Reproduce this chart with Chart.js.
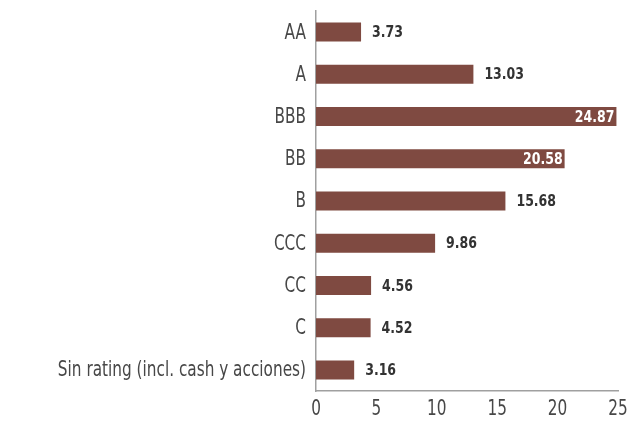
<!DOCTYPE html>
<html><head><meta charset="utf-8">
<script src="https://cdn.jsdelivr.net/npm/chart.js@4/dist/chart.umd.min.js"></script>
<style>html,body{margin:0;padding:0;background:#fff}#wrap{width:640px;height:430px}</style>
</head><body><div id="wrap"><canvas id="c" width="640" height="430"></canvas></div>
<script>
const categories = ["AA","A","BBB","BB","B","CCC","CC","C","Sin rating (incl. cash y acciones)"];
const values = [3.73,13.03,24.87,20.58,15.68,9.86,4.56,4.52,3.16];
const xTicks = [0,5,10,15,20,25];
const insideLabels = ["BBB","BB"];
const FONT = "'DejaVu Sans Condensed','DejaVu Sans',sans-serif";

// draw horizontally condensed text
function drawText(ctx, txt, x, y, align, font, color, sx) {
  ctx.save();
  ctx.font = font;
  ctx.fillStyle = color;
  ctx.textBaseline = 'middle';
  ctx.textAlign = 'left';
  const w = ctx.measureText(txt).width * sx;
  let left = x;
  if (align === 'right') left = x - w;
  else if (align === 'center') left = x - w / 2;
  ctx.translate(left, y);
  ctx.scale(sx, 1);
  ctx.fillText(txt, 0, 0);
  ctx.restore();
}

const labelPlugin = {
  id: 'customLabels',
  afterDraw(chart) {
    const ctx = chart.ctx;
    const xs = chart.scales.x, ys = chart.scales.y;
    const tickFont = "21px " + FONT;
    categories.forEach((c, i) => {
      drawText(ctx, c, ys.right - 10, ys.getPixelForValue(i) + 1, 'right', tickFont, '#474747', 0.81);
    });
    xTicks.forEach(v => {
      drawText(ctx, String(v), xs.getPixelForValue(v), 410, 'center', tickFont, '#474747', 0.81);
    });
    const meta = chart.getDatasetMeta(0);
    const lblFont = "bold 16px " + FONT;
    meta.data.forEach((bar, i) => {
      const txt = values[i].toFixed(2);
      if (insideLabels.includes(categories[i])) {
        drawText(ctx, txt, bar.x - 2, bar.y + 1, 'right', lblFont, '#ffffff', 0.87);
      } else {
        drawText(ctx, txt, bar.x + 11, bar.y + 1, 'left', lblFont, '#333333', 0.87);
      }
    });
  }
};

new Chart(document.getElementById('c'), {
  type: 'bar',
  data: { labels: categories, datasets: [{ data: values, backgroundColor: '#7f4a41', barPercentage: 0.9, categoryPercentage: 0.5 }] },
  options: {
    indexAxis: 'y',
    responsive: false,
    animation: false,
    layout: { padding: { top: 11, right: 22, left: 0, bottom: 0 } },
    plugins: { legend: { display: false }, tooltip: { enabled: false } },
    scales: {
      x: {
        min: 0, max: 25,
        ticks: { display: false, stepSize: 5 },
        grid: { display: false, drawTicks: false },
        border: { color: '#a0a0a0', width: 1.5 },
        afterFit(s) { s.height = 39; }
      },
      y: {
        ticks: { display: false },
        grid: { display: false, drawTicks: false },
        border: { color: '#a0a0a0', width: 1.5 },
        afterFit(s) { s.width = 316; }
      }
    }
  },
  plugins: [labelPlugin]
});
</script></body></html>
